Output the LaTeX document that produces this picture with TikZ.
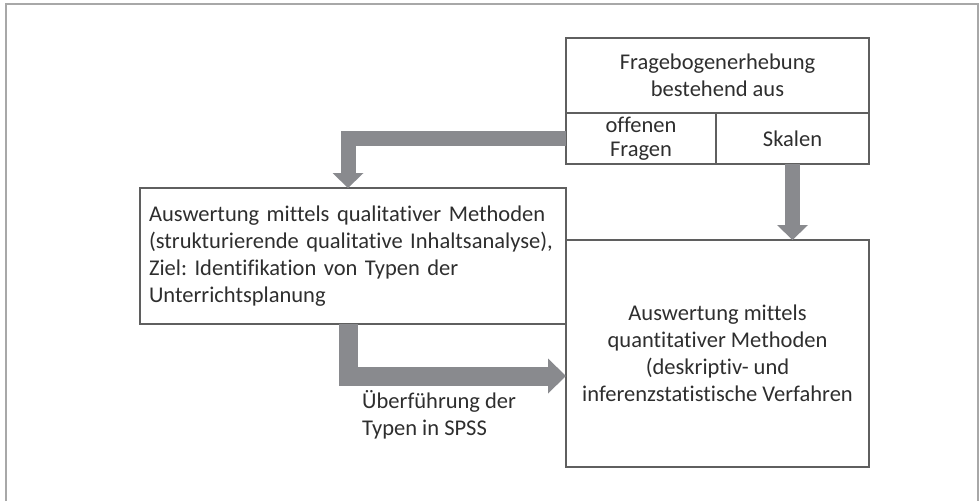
\documentclass[tikz,border=0pt]{standalone}
\usepackage{fontspec}
\setmainfont{Carlito}[Ligatures=NoCommon]
\frenchspacing
\usetikzlibrary{arrows.meta,positioning,calc}
\definecolor{boxline}{HTML}{5F5F5F}
\definecolor{arrowgray}{HTML}{898A8E}
\definecolor{framegray}{HTML}{A8A8A8}
\definecolor{textgray}{HTML}{2E2E2E}
\tikzset{%
  % Specifications for style of nodes:
          base/.style = {rectangle, draw=boxline, line width=1.5pt,
                         outer sep=0pt, inner sep=4pt, text=textgray,
                         align=center},
          cell/.style = {base, inner ysep=0pt, minimum height=51pt,
                         font=\fontsize{22.5}{24}\selectfont},
       leftbox/.style = {base, align=left, inner xsep=9pt},
         label/.style = {inner sep=0pt, text=textgray, align=left},
  % Specifications for the block arrows:
    blockarrow/.style = {arrowgray, line width=15pt, line join=miter,
                         -{Triangle[width=31pt,length=15pt,line width=0pt]}},
     widearrow/.style = {arrowgray, line width=19pt, line join=miter,
                         -{Triangle[width=35pt,length=18pt,line width=0pt]}},
}
\begin{document}
\begin{tikzpicture}[x=1pt, y=-1pt, font=\fontsize{22.5}{27}\selectfont]
  \useasboundingbox (0,0) rectangle (980,501);
  % frame round the figure
  \draw[framegray, line width=1.5pt] (6,501) -- (6,4) -- (978,4) -- (978,501);

  % Specification of nodes (position, etc.)
  \node (frage)  [base, minimum width=303pt, minimum height=75pt] at (717.5,75.5)
                 {Fragebogenerhebung\\bestehend aus};
  \node (offen)  [cell, minimum width=150pt, below right=0pt and 0pt of frage.south west]
                 {offenen\\Fragen};
  \node (skalen) [cell, minimum width=153pt, right=0pt of offen] {Skalen};
  \node (qual)   [leftbox, minimum width=426pt, minimum height=136pt, text width=408pt]
                 at (353,256)
                 {Auswertung mittels qualitativer Methoden\\
                  (strukturierende qualitative Inhaltsanalyse),\\
                  Ziel: Identifikation von Typen der\\
                  Unterrichtsplanung};
  \node (quant)  [base, minimum width=303pt, minimum height=227pt] at (717.5,353.5)
                 {Auswertung mittels\\quantitativer Methoden\\(deskriptiv- und\\
                  inferenzstatistische Verfahren};

  % Specification of arrows between nodes specified above
  \coordinate (qualin)  at ($(qual.north)+(-5,0)$);
  \coordinate (qualout) at ($(qual.south)+(-5,0)$);
  \coordinate (quantin) at ($(quant.west)+(0,22.5)$);
  \draw[blockarrow] (offen.west) -| (qualin);
  \draw[blockarrow] (skalen.south) -- (skalen.south |- quant.north);
  \draw[widearrow]  (qualout) |- (quantin);
  \node (spss) [label, anchor=north west] at ($(qualout)+(14,66)$)
               {Überführung der\\Typen in SPSS};
\end{tikzpicture}
\end{document}
